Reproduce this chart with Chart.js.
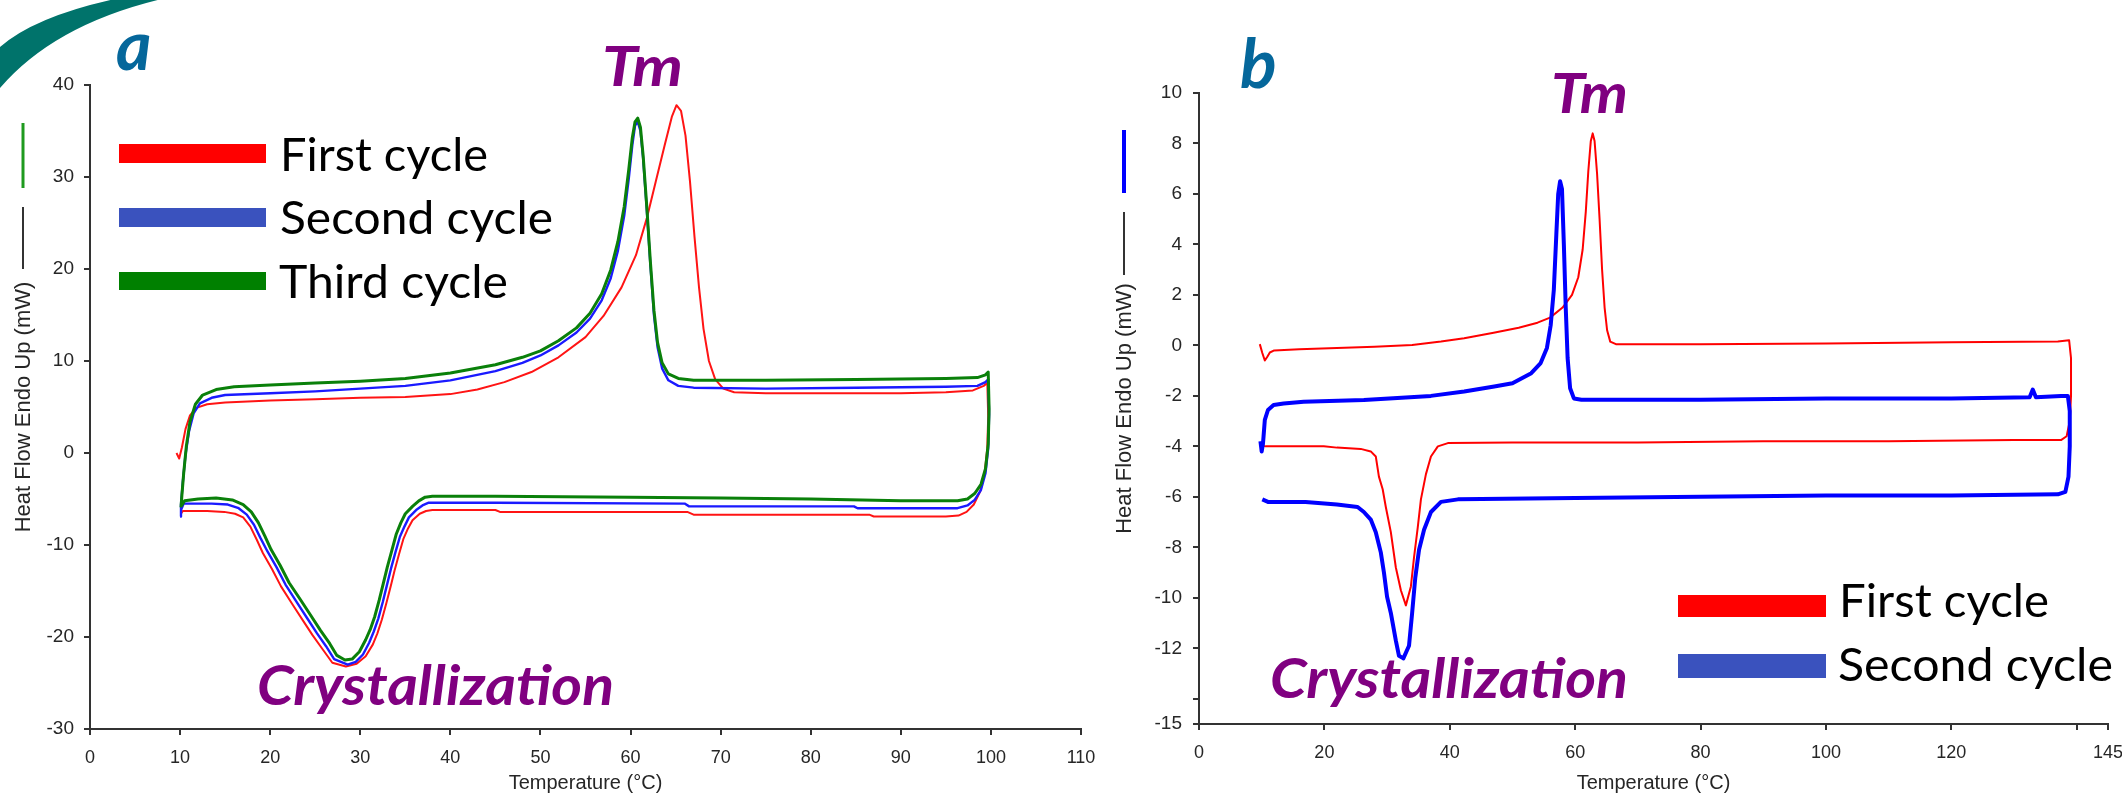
<!DOCTYPE html>
<html>
<head>
<meta charset="utf-8">
<title>DSC cycles</title>
<script src="https://cdn.jsdelivr.net/npm/chart.js@4.4.1/dist/chart.umd.min.js"></script>
<style>
  html, body { margin: 0; padding: 0; background: #fff; }
  #page { position: relative; width: 2122px; height: 796px; overflow: hidden; background: #fff; }
  #chartA { position: absolute; left: 0; top: 0; }
  #chartB { position: absolute; left: 1100px; top: 0; }
  #notes { position: absolute; left: 0; top: 0; pointer-events: none; }
  .tag { font-family: Lato, "Open Sans", sans-serif; font-weight: bold; font-style: italic; }
  .leg { font-family: Lato, "Open Sans", sans-serif; fill: #000; }
</style>
</head>
<body>
<div id="page">
  <canvas id="chartA" width="1100" height="796"></canvas>
  <canvas id="chartB" width="1022" height="796"></canvas>
  <svg id="notes" width="2122" height="796" xmlns="http://www.w3.org/2000/svg">
    <path d="M0,47 Q40,12 140,-6 L185,-6 Q60,18 0,88 Z" fill="#00736b"/>

    <text class="tag" x="116" y="70" font-size="68" fill="#05679b">a</text>
    <text class="tag" x="1240" y="88" font-size="68" fill="#05679b">b</text>

    <text class="tag" x="602" y="86" font-size="55" fill="#800080" textLength="81" lengthAdjust="spacingAndGlyphs">Tm</text>
    <text class="tag" x="1551" y="113" font-size="55" fill="#800080" textLength="77" lengthAdjust="spacingAndGlyphs">Tm</text>
    <text class="tag" x="257" y="705" font-size="55" fill="#800080" textLength="357" lengthAdjust="spacingAndGlyphs">Crystallization</text>
    <text class="tag" x="1270" y="698" font-size="55" fill="#800080" textLength="358" lengthAdjust="spacingAndGlyphs">Crystallization</text>

    <!-- instrument trace markers beside the y titles -->
    <line x1="23" y1="123" x2="23" y2="188" stroke="#1f9a1f" stroke-width="3"/>
    <line x1="23" y1="207" x2="23" y2="269" stroke="#333" stroke-width="2"/>
    <line x1="1124" y1="130" x2="1124" y2="193" stroke="#0000ff" stroke-width="4"/>
    <line x1="1124" y1="212" x2="1124" y2="275" stroke="#333" stroke-width="2"/>

    <!-- panel a legend -->
    <rect x="119" y="144" width="147" height="19" fill="#ff0000"/>
    <rect x="119" y="208" width="147" height="19" fill="#3a52be"/>
    <rect x="119" y="272" width="147" height="18" fill="#008000"/>
    <text class="leg" x="280" y="171" font-size="47" textLength="208" lengthAdjust="spacingAndGlyphs">First cycle</text>
    <text class="leg" x="280" y="234" font-size="47" textLength="273" lengthAdjust="spacingAndGlyphs">Second cycle</text>
    <text class="leg" x="279" y="298" font-size="47" textLength="229" lengthAdjust="spacingAndGlyphs">Third cycle</text>

    <!-- panel b legend -->
    <rect x="1678" y="595" width="148" height="22" fill="#ff0000"/>
    <rect x="1678" y="654" width="148" height="24" fill="#3a52be"/>
    <text class="leg" x="1839" y="617" font-size="47" textLength="210" lengthAdjust="spacingAndGlyphs">First cycle</text>
    <text class="leg" x="1838" y="681" font-size="47" textLength="275" lengthAdjust="spacingAndGlyphs">Second cycle</text>
  </svg>
</div>

<script>
/*
 * Panel a: three heat / cool cycles, temperature (°C) and heat flow (mW), in scan order
 */
const aHeat1Temp = [9.6, 9.9, 10.2, 10.6, 11.1, 11.8, 13.0, 15.0, 20.0, 25.0, 30.0, 35.0, 40.0, 43.0, 46.0, 49.0, 52.0, 55.0, 57.0, 59.0, 60.6, 61.8, 62.8, 63.8, 64.6, 65.1, 65.6, 66.1, 66.6, 67.1, 67.6, 68.1, 68.7, 69.4, 70.3, 71.5, 75.0, 80.0, 85.0, 90.0, 95.0, 98.0, 99.2, 99.6];
const aHeat1Flow = [0, -0.6, 0.6, 2.6, 4.1, 4.9, 5.3, 5.5, 5.7, 5.85, 6.0, 6.1, 6.4, 6.9, 7.7, 8.8, 10.4, 12.6, 14.9, 18.0, 21.5, 25.5, 29.5, 33.5, 36.6, 37.8, 37.2, 34.5, 29.5, 23.5, 18.0, 13.5, 10.0, 8.0, 7.0, 6.6, 6.5, 6.5, 6.5, 6.5, 6.6, 6.8, 7.3, 7.6];
const aCool1Temp = [99.7, 99.6, 99.3, 98.8, 98.1, 97.3, 96.4, 95.0, 87.0, 86.5, 67.0, 66.3, 45.5, 45.0, 38.0, 37.3, 36.6, 35.8, 35.3, 34.8, 34.3, 33.8, 33.4, 32.9, 32.4, 31.9, 31.4, 30.6, 29.6, 28.4, 26.9, 25.8, 24.7, 23.7, 22.5, 21.2, 20.2, 19.2, 18.5, 17.8, 17.0, 16.1, 14.9, 13.0, 11.2, 10.3, 10.1];
const aCool1Flow = [4.0, 0.5, -2.2, -4.2, -5.6, -6.4, -6.8, -6.9, -6.9, -6.7, -6.7, -6.4, -6.4, -6.2, -6.2, -6.3, -6.6, -7.3, -8.2, -9.3, -11.0, -12.8, -14.4, -16.3, -18.1, -19.6, -20.8, -22.1, -22.9, -23.2, -22.8, -21.3, -19.8, -18.3, -16.5, -14.5, -12.6, -10.9, -9.4, -8.0, -7.0, -6.6, -6.4, -6.3, -6.3, -6.3, -6.6];

const aHeat2Temp = [10.0, 10.1, 10.3, 10.6, 11.0, 11.5, 12.2, 13.5, 15.0, 20.0, 25.0, 30.0, 35.0, 40.0, 45.0, 48.0, 50.0, 52.0, 54.0, 55.5, 56.8, 57.8, 58.6, 59.3, 59.8, 60.2, 60.5, 60.8, 61.1, 61.4, 61.8, 62.2, 62.6, 63.0, 63.5, 64.2, 65.3, 67.0, 75.0, 85.0, 95.0, 98.5, 99.4, 99.7];
const aHeat2Flow = [-6.9, -5.6, -3.2, -0.2, 2.4, 4.3, 5.4, 6.0, 6.3, 6.5, 6.7, 7.0, 7.3, 7.9, 8.9, 9.8, 10.6, 11.7, 13.1, 14.6, 16.6, 19.0, 22.0, 25.8, 29.8, 33.5, 35.6, 36.0, 35.0, 32.0, 26.5, 20.5, 15.0, 11.5, 9.2, 7.9, 7.3, 7.1, 7.0, 7.1, 7.2, 7.3, 7.7, 8.0];
const aCool2Temp = [99.8, 99.7, 99.4, 98.9, 98.2, 97.4, 96.3, 94.0, 85.2, 84.8, 66.5, 66.0, 45.0, 37.6, 36.9, 36.2, 35.4, 34.9, 34.4, 33.9, 33.4, 33.0, 32.5, 32.0, 31.5, 31.0, 30.3, 29.5, 28.6, 27.1, 26.2, 25.2, 24.2, 23.0, 21.7, 20.7, 19.7, 18.9, 18.2, 17.4, 16.5, 15.3, 13.5, 11.5, 10.4, 10.1];
const aCool2Flow = [4.2, 0.5, -2.2, -4.0, -5.1, -5.7, -6.0, -6.0, -6.0, -5.8, -5.8, -5.5, -5.4, -5.4, -5.7, -6.2, -7.0, -8.0, -9.1, -10.8, -12.6, -14.2, -16.2, -18.0, -19.4, -20.6, -21.9, -22.7, -23.0, -22.4, -21.0, -19.6, -18.1, -16.3, -14.3, -12.4, -10.7, -9.2, -7.8, -6.7, -6.0, -5.6, -5.5, -5.5, -5.5, -6.2];

const aHeat3Temp = [10.1, 10.2, 10.4, 10.7, 11.1, 11.7, 12.5, 14.0, 16.0, 20.0, 25.0, 30.0, 35.0, 40.0, 45.0, 48.0, 50.0, 52.0, 54.0, 55.5, 56.8, 57.8, 58.6, 59.3, 59.8, 60.2, 60.5, 60.8, 61.1, 61.4, 61.8, 62.2, 62.6, 63.0, 63.5, 64.2, 65.3, 67.0, 75.0, 85.0, 95.0, 98.5, 99.4, 99.7];
const aHeat3Flow = [-5.9, -4.6, -2.2, 0.8, 3.4, 5.3, 6.3, 6.9, 7.2, 7.4, 7.6, 7.8, 8.1, 8.7, 9.6, 10.4, 11.1, 12.2, 13.6, 15.2, 17.3, 19.9, 23.0, 26.8, 30.8, 34.3, 36.0, 36.4, 35.4, 32.3, 26.8, 20.8, 15.5, 12.0, 9.8, 8.6, 8.1, 7.9, 7.9, 8.0, 8.1, 8.2, 8.5, 8.8];
const aCool3Temp = [99.8, 99.7, 99.4, 98.9, 98.2, 97.4, 96.3, 90.0, 80.0, 70.0, 60.0, 45.0, 38.0, 37.2, 36.5, 35.8, 35.0, 34.5, 34.0, 33.5, 33.0, 32.6, 32.1, 31.6, 31.1, 30.6, 29.9, 29.1, 28.3, 27.4, 26.6, 25.6, 24.6, 23.4, 22.1, 21.1, 20.1, 19.4, 18.7, 17.9, 17.0, 15.8, 14.0, 12.0, 10.5, 10.1];
const aCool3Flow = [4.8, 1.0, -1.7, -3.4, -4.4, -5.0, -5.2, -5.2, -5.0, -4.9, -4.8, -4.7, -4.7, -4.8, -5.2, -5.8, -6.6, -7.6, -8.8, -10.6, -12.4, -14.0, -16.0, -17.8, -19.2, -20.3, -21.6, -22.4, -22.5, -22.0, -20.7, -19.3, -17.8, -16.0, -14.1, -12.2, -10.5, -9.0, -7.6, -6.4, -5.6, -5.1, -4.9, -5.0, -5.2, -5.8];

/*
 * Panel b: two heat / cool cycles
 */
const bHeat1Temp = [9.7, 10.1, 10.5, 10.9, 11.3, 12.0, 16.0, 22.0, 28.0, 34.0, 38.6, 42.3, 47.0, 51.0, 54.0, 56.0, 58.0, 59.5, 60.5, 61.2, 61.7, 62.1, 62.5, 62.8, 63.1, 63.5, 63.9, 64.3, 64.7, 65.1, 65.6, 66.5, 80.0, 100.0, 120.0, 137.0, 138.8];
const bHeat1Flow = [0.05, -0.3, -0.6, -0.45, -0.28, -0.2, -0.15, -0.1, -0.05, 0.02, 0.15, 0.28, 0.5, 0.7, 0.9, 1.1, 1.5, 2.0, 2.7, 3.8, 5.3, 6.9, 8.1, 8.4, 8.1, 6.8, 5.0, 3.0, 1.5, 0.6, 0.15, 0.05, 0.05, 0.08, 0.12, 0.15, 0.2];
const bCool1Temp = [139.1, 139.1, 138.9, 138.4, 137.5, 130.0, 110.0, 90.0, 70.0, 50.0, 39.7, 38.1, 37.0, 36.2, 35.4, 34.9, 34.3, 33.8, 33.0, 32.2, 31.4, 30.6, 29.8, 29.3, 28.7, 28.2, 27.4, 25.8, 22.0, 19.9, 15.0, 10.6, 9.8];
const bCool1Flow = [-0.5, -2.0, -3.0, -3.6, -3.75, -3.75, -3.8, -3.8, -3.85, -3.85, -3.87, -4.0, -4.4, -5.1, -6.1, -7.2, -8.4, -9.55, -10.3, -9.7, -8.8, -7.4, -6.4, -5.7, -5.2, -4.4, -4.2, -4.1, -4.05, -4.0, -4.0, -4.0, -3.95];

const bHeat2Temp = [9.8, 10.0, 10.2, 10.3, 10.5, 11.0, 11.9, 13.5, 16.7, 26.3, 37.0, 42.3, 47.1, 50.0, 53.0, 54.5, 55.5, 56.1, 56.6, 57.0, 57.3, 57.6, 57.9, 58.2, 58.5, 58.8, 59.2, 59.8, 61.0, 80.0, 100.0, 120.0, 132.5, 133.0, 133.5, 137.5, 138.6];
const bHeat2Flow = [-3.8, -4.2, -3.9, -3.6, -2.95, -2.56, -2.36, -2.3, -2.23, -2.16, -2.0, -1.83, -1.63, -1.5, -1.1, -0.7, -0.1, 0.8, 2.2, 4.4, 6.0, 6.5, 6.2, 4.0, 1.5, -0.5, -1.7, -2.1, -2.15, -2.15, -2.1, -2.1, -2.05, -1.75, -2.05, -2.0, -2.0];
const bCool2Temp = [138.9, 138.9, 138.7, 138.2, 137.0, 120.0, 100.0, 80.0, 60.0, 41.3, 38.6, 37.0, 35.9, 35.1, 34.5, 34.0, 33.5, 32.6, 31.9, 31.4, 30.6, 30.0, 29.5, 29.0, 28.2, 27.4, 26.3, 25.3, 22.0, 17.0, 11.0, 10.1];
const bCool2Flow = [-2.6, -4.0, -5.2, -5.8, -5.9, -5.95, -5.95, -6.0, -6.05, -6.1, -6.2, -6.6, -7.3, -8.1, -9.2, -10.6, -11.9, -12.4, -12.3, -11.7, -10.6, -9.96, -9.0, -8.2, -7.4, -6.9, -6.6, -6.4, -6.3, -6.2, -6.2, -6.1];

/*
 * Axis ticks and labels
 */
const aTempTicks = [0, 10, 20, 30, 40, 50, 60, 70, 80, 90, 100, 110];
const aTempLabels = ["0", "10", "20", "30", "40", "50", "60", "70", "80", "90", "100", "110"];
const aFlowTicks = [-30, -20, -10, 0, 10, 20, 30, 40];
const aFlowLabels = ["-30", "-20", "-10", "0", "10", "20", "30", "40"];
const bTempTicks = [0, 20, 40, 60, 80, 100, 120, 140, 145];
const bTempLabels = ["0", "20", "40", "60", "80", "100", "120", "", "145"];
const bFlowTicks = [-15, -14, -12, -10, -8, -6, -4, -2, 0, 2, 4, 6, 8, 10];
const bFlowLabels = ["-15", "", "-12", "-10", "-8", "-6", "-4", "-2", "0", "2", "4", "6", "8", "10"];

Chart.defaults.font.family = "'Liberation Sans', Arial, Helvetica, sans-serif";

// join heating and cooling scans into one path of {x, y}
function scanPoints(heatT, heatQ, coolT, coolQ) {
  const t = heatT.concat(coolT);
  const q = heatQ.concat(coolQ);
  return t.map((v, i) => ({ x: v, y: q[i] }));
}

function trace(points, color, width, order) {
  return {
    data: points,
    showLine: true,
    borderColor: color,
    borderWidth: width,
    pointRadius: 0,
    tension: 0,
    borderJoinStyle: "round",
    order: order,
  };
}

/*
 * Configuration for one DSC panel
 */
const config = function (p) {
  const axisColor = "#333";
  const textColor = "#262626";
  return {
    type: "scatter",
    data: { datasets: p.datasets },
    options: {
      responsive: false,
      animation: false,
      devicePixelRatio: 1,
      layout: { padding: { top: p.top, right: p.right, left: 0, bottom: 0 } },
      plugins: { legend: { display: false }, tooltip: { enabled: false } },
      scales: {
        x: {
          type: "linear",
          min: p.xTicks[0],
          max: p.xTicks[p.xTicks.length - 1],
          afterBuildTicks: (s) => { s.ticks = p.xTicks.map((v) => ({ value: v })); },
          afterFit: (s) => { s.height = p.xHeight; s.paddingLeft = 0; s.paddingRight = 0; },
          ticks: {
            autoSkip: false,
            maxRotation: 0,
            padding: 12,
            color: textColor,
            font: { size: 18 },
            callback: (v, i) => p.xLabels[i],
          },
          grid: { drawOnChartArea: false, drawTicks: true, tickLength: 6, color: axisColor, lineWidth: 2 },
          border: { display: true, color: axisColor, width: 2 },
          title: {
            display: true,
            text: "Temperature (°C)",
            color: textColor,
            font: { size: 20 },
            padding: { top: 0, bottom: 1 },
          },
        },
        y: {
          type: "linear",
          min: p.yTicks[0],
          max: p.yTicks[p.yTicks.length - 1],
          afterBuildTicks: (s) => { s.ticks = p.yTicks.map((v) => ({ value: v })); },
          afterFit: (s) => { s.width = p.yWidth; s.paddingTop = 0; s.paddingBottom = 0; },
          ticks: {
            autoSkip: false,
            padding: p.yPad,
            color: textColor,
            font: { size: 19 },
            callback: (v, i) => p.yLabels[i],
          },
          grid: { drawOnChartArea: false, drawTicks: true, tickLength: 6, color: axisColor, lineWidth: 2 },
          border: { display: true, color: axisColor, width: 2 },
          title: {
            display: true,
            text: "Heat Flow Endo Up (mW)",
            color: textColor,
            font: { size: 22 },
            padding: { top: p.titlePad, bottom: 0 },
          },
        },
      },
    },
  };
};

new Chart(document.getElementById("chartA"), config({
  datasets: [
    trace(scanPoints(aHeat1Temp, aHeat1Flow, aCool1Temp, aCool1Flow), "#ff1414", 2, 3),
    trace(scanPoints(aHeat2Temp, aHeat2Flow, aCool2Temp, aCool2Flow), "#1a1aff", 2.4, 2),
    trace(scanPoints(aHeat3Temp, aHeat3Flow, aCool3Temp, aCool3Flow), "#0a800a", 3, 1),
  ],
  top: 85, right: 19, xHeight: 67, yWidth: 90, yPad: 10, titlePad: 11,
  xTicks: aTempTicks, xLabels: aTempLabels, yTicks: aFlowTicks, yLabels: aFlowLabels,
}));

new Chart(document.getElementById("chartB"), config({
  datasets: [
    trace(scanPoints(bHeat1Temp, bHeat1Flow, bCool1Temp, bCool1Flow), "#ff0000", 2, 2),
    trace(scanPoints(bHeat2Temp, bHeat2Flow, bCool2Temp, bCool2Flow), "#0000ff", 4, 1),
  ],
  top: 93, right: 14, xHeight: 72, yWidth: 99, yPad: 11, titlePad: 12,
  xTicks: bTempTicks, xLabels: bTempLabels, yTicks: bFlowTicks, yLabels: bFlowLabels,
}));
</script>
</body>
</html>
